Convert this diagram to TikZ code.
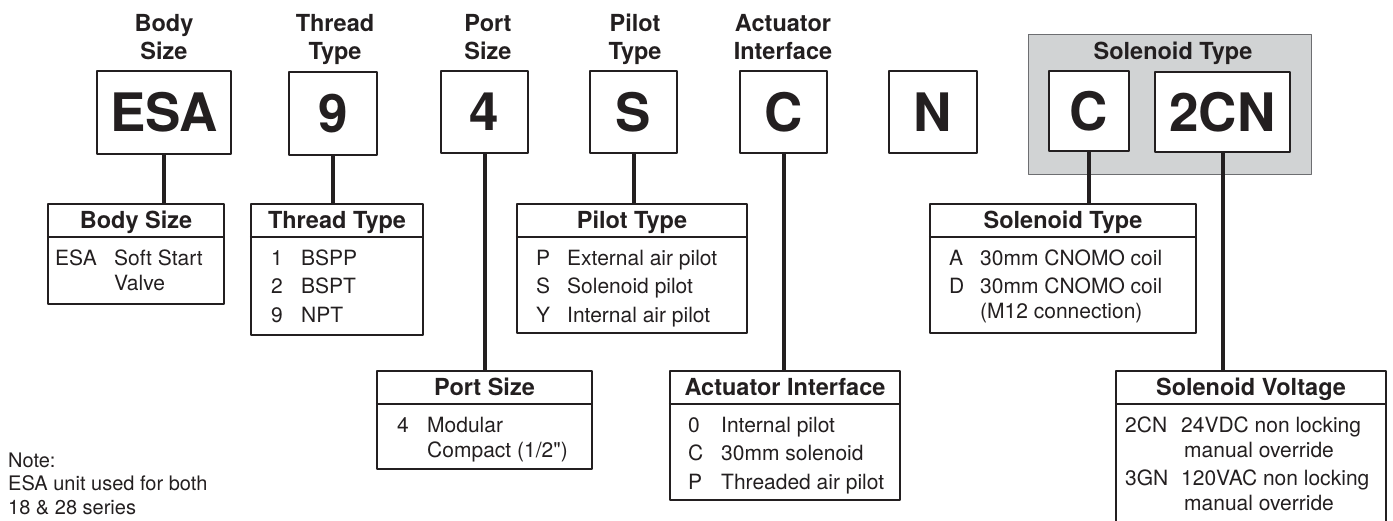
\documentclass[tikz,border=0pt]{standalone}
\usepackage{fontspec}
\setmainfont{TeX Gyre Heros}
\newfontfamily\plainquotes{TeX Gyre Heros}
\usepackage{tikz}
\definecolor{ink}{HTML}{231F20}
\definecolor{panelgray}{HTML}{D1D3D4}
\definecolor{panelline}{HTML}{6D6E71}

\begin{document}
\begin{tikzpicture}[x=1pt, y=-1pt, line join=round, color=ink,
  codebox/.style={draw=ink, line width=2.2pt, fill=white, inner sep=0pt,
    font=\bfseries\fontsize{53}{53}\selectfont},
  toplabel/.style={align=center, anchor=base,
    font=\bfseries\fontsize{23.5}{28}\selectfont},
  tabbox/.style={draw=ink, line width=2.4pt, inner sep=0pt},
  tabhead/.style={anchor=base, inner sep=0pt,
    font=\bfseries\fontsize{23.5}{28}\selectfont},
  tablist/.style={anchor=north west, inner sep=0pt,
    font=\fontsize{21}{25}\selectfont},
  stem/.style={line width=4pt},
  sepline/.style={line width=2pt}]
\useasboundingbox (0,0) rectangle (1393,520);
\clip (0,0) rectangle (1393,520);

% solenoid group panel
\node[draw=panelline, line width=1pt, fill=panelgray, minimum width=283pt,
  minimum height=140pt] (solpanel) at (1169.5,104) {};
\node[tabhead] (solpaneltitle) at (1173,59) {Solenoid Type};

% code boxes
\node[codebox, minimum width=134pt, minimum height=83pt] (esa) at (164,112.5) {ESA};
\node[codebox, minimum width=88pt, minimum height=83pt] (thread) at (333,113.5) {9};
\node[codebox, minimum width=87pt, minimum height=82pt] (port) at (484.5,112) {4};
\node[codebox, minimum width=87pt, minimum height=82pt] (pilot) at (633.5,112) {S};
\node[codebox, minimum width=87pt, minimum height=82pt] (act) at (783.5,112) {C};
\node[codebox, minimum width=88pt, minimum height=82pt] (nbox) at (933,112) {N};
\node[codebox, minimum width=80pt, minimum height=80pt] (solc) at (1089,111) {C};
\node[codebox, minimum width=135pt, minimum height=80pt] (volt) at (1222.5,112) {2CN};

% labels above (base = last line)
\node[toplabel] (esalabel) at (164,59) {Body\\Size};
\node[toplabel] (threadlabel) at (335,59) {Thread\\Type};
\node[toplabel] (portlabel) at (488,59) {Port\\Size};
\node[toplabel] (pilotlabel) at (635,59) {Pilot\\Type};
\node[toplabel] (actlabel) at (783,59) {Actuator\\Interface};

% option tables
\node[tabbox, minimum width=176pt, minimum height=100pt] (bodytab) at (136,254) {};
\node[tabbox, minimum width=172pt, minimum height=131pt] (threadtab) at (337,269.5) {};
\node[tabbox, minimum width=230pt, minimum height=129pt] (pilottab) at (632,268.5) {};
\node[tabbox, minimum width=266pt, minimum height=129pt] (soltab) at (1063,268.5) {};
\node[tabbox, minimum width=215pt, minimum height=98pt] (porttab) at (484.5,420) {};
\node[tabbox, minimum width=230pt, minimum height=129pt] (acttab) at (785,435.5) {};
\node[tabbox, minimum width=270pt, minimum height=169pt] (volttab) at (1251,455.5) {};

\foreach \t/\h in {bodytab/Body Size, threadtab/Thread Type, pilottab/Pilot Type,
  soltab/Solenoid Type, porttab/Port Size, acttab/Actuator Interface,
  volttab/Solenoid Voltage} {
  \draw[sepline] ([yshift=-34.5pt]\t.north west) -- ([yshift=-34.5pt]\t.north east);
  \node[tabhead] (\t-head) at ([yshift=-26pt]\t.north) {\h};
}

\node[tablist] (bodylist) at (55,247.5) {%
  \begin{tabular}{@{}p{59pt}@{}l@{}}
  ESA & Soft Start\\
      & Valve
  \end{tabular}};
\node[tablist] (threadlist) at (271,247.5) {%
  \begin{tabular}{@{}p{30pt}@{}l@{}}
  1 & BSPP\\[3.5pt]
  2 & BSPT\\[3.5pt]
  9 & NPT
  \end{tabular}};
\node[tablist] (pilotlist) at (536,247.5) {%
  \begin{tabular}{@{}p{31pt}@{}l@{}}
  P & External air pilot\\[3.5pt]
  S & Solenoid pilot\\[3.5pt]
  Y & Internal air pilot
  \end{tabular}};
\node[tablist] (sollist) at (949,247.5) {%
  \begin{tabular}{@{}p{31pt}@{}l@{}}
  A & 30mm CNOMO coil\\[3.5pt]
  D & 30mm CNOMO coil\\
    & (M12 connection)
  \end{tabular}};
\node[tablist] (portlist) at (397,414.5) {%
  \begin{tabular}{@{}p{30pt}@{}l@{}}
  4 & Modular\\
    & Compact (1/2{\plainquotes"})
  \end{tabular}};
\node[tablist] (actlist) at (688,414.5) {%
  \begin{tabular}{@{}p{33pt}@{}l@{}}
  0 & Internal pilot\\[3.5pt]
  C & 30mm solenoid\\[3.5pt]
  P & Threaded air pilot
  \end{tabular}};
\node[tablist] (voltlist) at (1125,414.5) {%
  \begin{tabular}{@{}p{56pt}@{}l@{}}
  2CN & 24VDC non locking\\
      & \hspace{3pt}manual override\\[3pt]
  3GN & 120VAC non locking\\
      & \hspace{3pt}manual override
  \end{tabular}};

% stems
\draw[stem] (esa.south) -- (esa.south |- bodytab.north);
\draw[stem] (thread.south) -- (thread.south |- threadtab.north);
\draw[stem] (port.south) -- (port.south |- porttab.north);
\draw[stem] (pilot.south) -- (pilot.south |- pilottab.north);
\draw[stem] (act.south) -- (act.south |- acttab.north);
\draw[stem] (solc.south) -- (solc.south |- soltab.north);
\draw[stem] (volt.south) -- (volt.south |- volttab.north);

% note (base = last line)
\node[anchor=base west, align=left, inner sep=0pt,
  font=\fontsize{20}{23.5}\selectfont] (note) at (8,514)
  {Note:\\ESA unit used for both\\18 \& 28 series};
\end{tikzpicture}
\end{document}
